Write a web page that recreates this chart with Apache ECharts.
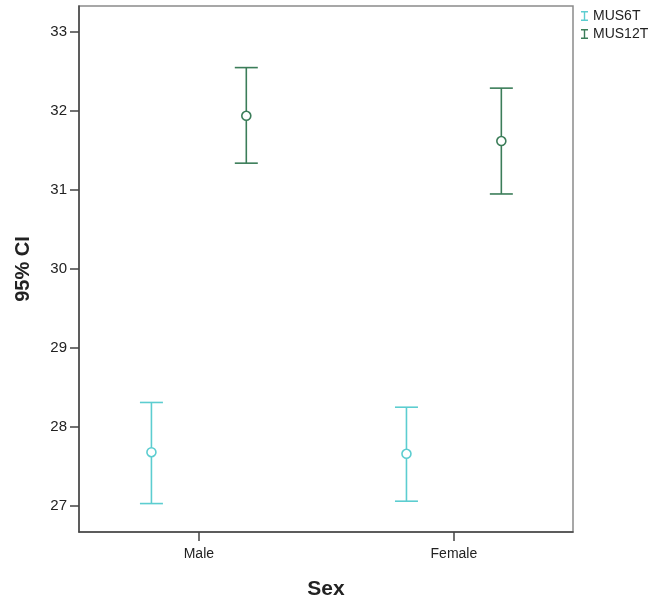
<!DOCTYPE html>
<html>
<head>
<meta charset="utf-8">
<script src="https://cdn.jsdelivr.net/npm/echarts@6/dist/echarts.min.js"></script>
<style>html,body{margin:0;padding:0;background:#fff;}#c{width:654px;height:600px;}</style>
</head>
<body>
<div id="c"></div>
<script>
const categories = ['Male', 'Female'];
const seriesNames = ['MUS6T', 'MUS12T'];
const mus6tMean = [27.68, 27.66];
const mus6tLow = [27.03, 27.06];
const mus6tHigh = [28.31, 28.25];
const mus12tMean = [31.94, 31.62];
const mus12tLow = [31.34, 30.95];
const mus12tHigh = [32.55, 32.29];
const yTicks = [27, 28, 29, 30, 31, 32, 33];

const colors = ['#5ccdd0', '#3b7d59'];
const offsets = [-0.186, 0.186];
const FONT = "'Liberation Sans', Arial, sans-serif";

const means = [mus6tMean, mus12tMean];
const lows = [mus6tLow, mus12tLow];
const highs = [mus6tHigh, mus12tHigh];

const series = [];
seriesNames.forEach(function (name, s) {
  const barData = categories.map(function (c, i) { return [i + offsets[s], lows[s][i], highs[s][i]]; });
  const meanData = categories.map(function (c, i) { return [i + offsets[s], means[s][i]]; });
  series.push({
    name: name,
    type: 'custom',
    color: colors[s],
    encode: { x: 0, y: [1, 2] },
    data: barData,
    renderItem: function (params, api) {
      const x = api.value(0);
      const lo = api.coord([x, api.value(1)]);
      const hi = api.coord([x, api.value(2)]);
      const hw = 11.5;
      const st = { stroke: colors[s], lineWidth: 1.6 };
      return {
        type: 'group',
        children: [
          { type: 'line', shape: { x1: lo[0], y1: lo[1], x2: hi[0], y2: hi[1] }, style: st },
          { type: 'line', shape: { x1: lo[0] - hw, y1: lo[1], x2: lo[0] + hw, y2: lo[1] }, style: st },
          { type: 'line', shape: { x1: hi[0] - hw, y1: hi[1], x2: hi[0] + hw, y2: hi[1] }, style: st }
        ]
      };
    },
    z: 2
  });
  series.push({
    name: name,
    type: 'scatter',
    data: meanData,
    symbol: 'circle',
    symbolSize: 9,
    itemStyle: { color: '#fff', borderColor: colors[s], borderWidth: 1.6, opacity: 1 },
    emphasis: { disabled: true },
    z: 3
  });
});

const chart = echarts.init(document.getElementById('c'), null, { renderer: 'canvas' });
chart.setOption({
  animation: false,
  backgroundColor: '#fff',
  textStyle: { fontFamily: FONT },
  grid: { left: 79, right: 81, top: 6, bottom: 68, show: true, borderColor: '#8a8a8a', borderWidth: 1.5, backgroundColor: '#fff', outerBoundsMode: 'none', containLabel: false },
  legend: {
    orient: 'vertical',
    left: 581,
    top: 9,
    padding: 0,
    itemWidth: 7,
    itemHeight: 11,
    itemGap: 4,
    textStyle: { fontFamily: FONT, fontSize: 14, color: '#222' },
    data: seriesNames.map(function (n, s) {
      return { name: n, icon: 'path://M0,0H7V1.5H4.2V8.5H7V10H0V8.5H2.8V1.5H0Z', itemStyle: { color: colors[s] } };
    })
  },
  xAxis: {
    type: 'value',
    min: -0.47,
    max: 1.467,
    name: 'Sex',
    nameLocation: 'middle',
    nameGap: 47,
    nameTextStyle: { fontFamily: FONT, fontSize: 21, fontWeight: 'bold', color: '#222' },
    splitLine: { show: false },
    axisLine: { show: true, onZero: false, lineStyle: { color: '#444', width: 1.5 } },
    axisTick: { show: true, length: 9, customValues: [0, 1], lineStyle: { color: '#444', width: 1.5 } },
    axisLabel: { customValues: [0, 1], fontSize: 14, color: '#222', margin: 15, formatter: function (v) { return categories[Math.round(v)]; } }
  },
  yAxis: {
    type: 'value',
    min: 26.67,
    max: 33.33,
    name: '95% CI',
    nameLocation: 'middle',
    nameGap: 46,
    nameRotate: 90,
    nameTextStyle: { fontFamily: FONT, fontSize: 20, fontWeight: 'bold', color: '#222' },
    splitLine: { show: false },
    axisLine: { show: true, onZero: false, lineStyle: { color: '#444', width: 1.5 } },
    axisTick: { show: true, length: 9, customValues: yTicks, lineStyle: { color: '#444', width: 1.5 } },
    axisLabel: { customValues: yTicks, fontSize: 15, color: '#222', margin: 12 }
  },
  series: series
});
</script>
</body>
</html>
